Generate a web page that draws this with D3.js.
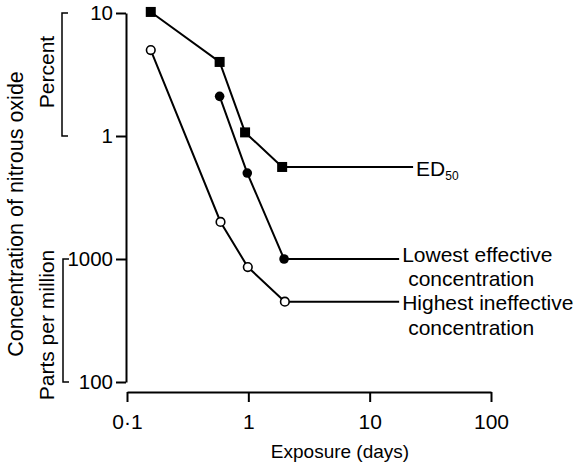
<!DOCTYPE html>
<html lang="en">
<head>
<meta charset="UTF-8">
<title>Nitrous oxide exposure</title>
<script src="https://d3js.org/d3.v7.min.js"></script>
<style>
  body { margin: 0; background: #fff; }
  svg text { font-family: "Liberation Sans", Arial, Helvetica, sans-serif; fill: #000; }
</style>
</head>
<body>
<div id="chart"></div>
<script>
// Data (concentration in percent, exposure in days)
const exposureED50 = [0.157, 0.58, 0.94, 1.9];
const ed50 = [10.2, 4.0, 1.07, 0.56];
const exposureLowest = [0.58, 0.98, 1.97];
const lowest = [2.1, 0.5, 0.1];
const exposureHighest = [0.157, 0.59, 0.99, 2.0];
const highest = [5.0, 0.2, 0.086, 0.045];

const xTicks = [0.1, 1, 10, 100];
const xTickLabels = ["0\u00b71", "1", "10", "100"];
const yTicks = [10, 1, 0.1, 0.01];
const yTickLabels = ["10", "1", "1000", "100"];   // top two percent, bottom two ppm
const labelEnds = [22.8, 17.5, 17.5];             // where the label leader lines stop (days)

const width = 588, height = 465;

const svg = d3.select("#chart").append("svg")
    .attr("width", width)
    .attr("height", height);

const x = d3.scaleLog().domain([0.1, 100]).range([127, 491]);
const y = d3.scaleLog().domain([0.01, 10]).range([382, 13]);

// X axis (separate from y axis, as in the print)
svg.append("g")
    .attr("transform", "translate(0,392)")
    .call(d3.axisBottom(x)
        .tickValues(xTicks)
        .tickFormat((d, i) => xTickLabels[i])
        .tickSize(10)
        .tickSizeOuter(0)
        .tickPadding(12))
    .call(g => g.selectAll("path, line").attr("stroke", "#000").attr("stroke-width", 2))
    .call(g => g.selectAll("text").attr("font-size", 21).attr("fill", "#000"));

// Y axis
svg.append("g")
    .attr("transform", "translate(126,0)")
    .call(d3.axisLeft(y)
        .tickValues(yTicks)
        .tickFormat((d, i) => yTickLabels[i])
        .tickSize(10)
        .tickSizeOuter(0)
        .tickPadding(3))
    .call(g => g.selectAll("path, line").attr("stroke", "#000").attr("stroke-width", 2))
    .call(g => g.selectAll("text").attr("font-size", 20.5).attr("fill", "#000"));

svg.append("text")
    .attr("x", 340).attr("y", 458)
    .attr("text-anchor", "middle")
    .attr("font-size", 19)
    .text("Exposure (days)");

// Left side unit brackets
function bracket(xPos, top, bottom) {
    svg.append("path")
        .attr("d", `M${xPos + 6},${y(top)}H${xPos}V${y(bottom)}H${xPos + 6}`)
        .attr("fill", "none")
        .attr("stroke", "#000")
        .attr("stroke-width", 1.5);
}
bracket(62, 10, 1);
bracket(63, 0.1, 0.01);

svg.append("text")
    .attr("transform", "translate(54,72) rotate(-90)")
    .attr("text-anchor", "middle")
    .attr("font-size", 21)
    .text("Percent");

svg.append("text")
    .attr("transform", "translate(54,325) rotate(-90)")
    .attr("text-anchor", "middle")
    .attr("font-size", 21)
    .text("Parts per million");

svg.append("text")
    .attr("transform", "translate(23,214) rotate(-90)")
    .attr("text-anchor", "middle")
    .attr("font-size", 21.5)
    .text("Concentration of nitrous oxide");

// Series
const series = [
    { xs: exposureED50, ys: ed50, marker: "square" },
    { xs: exposureLowest, ys: lowest, marker: "dot" },
    { xs: exposureHighest, ys: highest, marker: "ring" }
];

const line = d3.line().x(d => x(d[0])).y(d => y(d[1]));

series.forEach((s, k) => {
    const pts = s.xs.map((v, i) => [v, s.ys[i]]);
    const last = pts[pts.length - 1];
    pts.push([labelEnds[k], last[1]]);

    svg.append("path")
        .datum(pts)
        .attr("d", line)
        .attr("fill", "none")
        .attr("stroke", "#000")
        .attr("stroke-width", 2);

    const m = svg.append("g").selectAll("g")
        .data(s.xs.map((v, i) => [v, s.ys[i]]))
        .join("g")
        .attr("transform", d => `translate(${x(d[0])},${y(d[1])})`);

    if (s.marker === "square") {
        m.append("rect").attr("x", -5).attr("y", -5).attr("width", 10).attr("height", 10).attr("fill", "#000");
    } else if (s.marker === "dot") {
        m.append("circle").attr("r", 4.8).attr("fill", "#000");
    } else {
        m.append("circle").attr("r", 4.3).attr("fill", "#fff").attr("stroke", "#000").attr("stroke-width", 1.6);
    }
});

// Series labels
const ed = svg.append("text")
    .attr("x", x(labelEnds[0]) + 3)
    .attr("y", y(ed50[3]) + 9)
    .attr("font-size", 21);
ed.append("tspan").text("ED");
ed.append("tspan").attr("font-size", 12).attr("dy", 4).text("50");

function twoLine(xPos, yPos, gap, first, second) {
    const t = svg.append("text").attr("font-size", 21);
    t.append("tspan").attr("x", xPos).attr("y", yPos).text(first);
    t.append("tspan").attr("x", xPos + 6).attr("y", yPos + gap).text(second);
}
twoLine(x(labelEnds[1]) + 3, y(lowest[2]) + 3, 24, "Lowest effective", "concentration");
twoLine(x(labelEnds[2]) + 3, y(highest[3]) + 8, 25, "Highest ineffective", "concentration");
</script>
</body>
</html>
